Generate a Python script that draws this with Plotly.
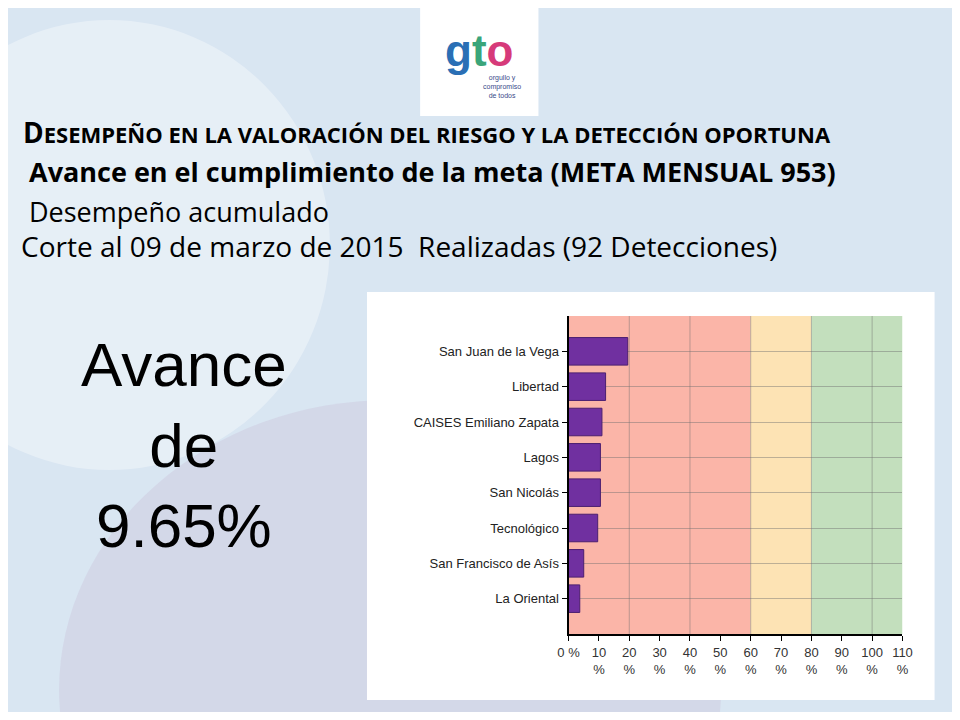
import plotly.graph_objects as go

# data (percent of monthly goal)
centros = ["San Juan de la Vega", "Libertad", "CAISES Emiliano Zapata", "Lagos",
           "San Nicolás", "Tecnológico", "San Francisco de Asís", "La Oriental"]
avance = [19.5, 12.2, 11.0, 10.5, 10.5, 9.6, 5.0, 3.7]
tick_vals = [0, 10, 20, 30, 40, 50, 60, 70, 80, 90, 100, 110]
tick_text = ["0 %"] + [f"{v}<br>%" for v in tick_vals[1:]]
bandas = [(0, 60, "#fbb5a8"), (60, 80, "#fde3b4"), (80, 110, "#c3dfbd")]

y_cat = centros[::-1]
x_val = avance[::-1]

W, H = 944, 704  # page keeps an 8px margin


def px(x):
    # screenshot pixel -> paper fraction (empirical correction)
    x = (x - 20) / 0.975
    return x / W


def py(y):
    return 1 - (y - 8) / H


fig = go.Figure(go.Bar(
    x=x_val, y=y_cat, orientation="h", width=0.78,
    marker=dict(color="#7030a0", line=dict(color="#4b1f70", width=1)),
))

shapes = [
    # background soft shapes
    dict(type="circle", xref="paper", yref="paper", x0=px(-110), x1=px(330), y0=py(470), y1=py(20),
         fillcolor="rgba(255,255,255,0.35)", line_width=0, layer="below"),
    dict(type="circle", xref="paper", yref="paper", x0=px(60), x1=px(720), y0=py(980), y1=py(400),
         fillcolor="rgba(200,190,215,0.35)", line_width=0, layer="below"),
    # logo box
    dict(type="rect", xref="paper", yref="paper", x0=px(420), x1=px(538), y0=py(116), y1=1,
         fillcolor="white", line_width=0, layer="below"),
    # chart white box
    dict(type="rect", xref="paper", yref="paper", x0=px(367), x1=px(933), y0=py(700), y1=py(292),
         fillcolor="white", line_width=0, layer="below"),
]
for a, b, c in bandas:
    shapes.append(dict(type="rect", xref="x", yref="y domain", x0=a, x1=b, y0=0, y1=1,
                       fillcolor=c, line_width=0, layer="below"))
for v in [20, 40, 60, 80, 100]:
    shapes.append(dict(type="line", xref="x", yref="y domain", x0=v, x1=v, y0=0, y1=1,
                       line=dict(color="rgba(110,110,110,0.45)", width=1), layer="below"))

title_html = "<span style='font-size:28px'>D</span>ESEMPEÑO EN LA VALORACIÓN DEL RIESGO Y LA DETECCIÓN OPORTUNA"


def note(x, y, text, size, **kw):
    return dict(xref="paper", yref="paper", x=px(x), y=py(y), text=text, showarrow=False,
                xanchor=kw.pop("xanchor", "left"), yanchor="middle",
                font=dict(size=size, color=kw.pop("color", "black"), family=kw.pop("family", "Open Sans")), **kw)


anns = [
    note(22, 132, "<b>" + title_html + "</b>", 22),
    note(28, 172, "<b>Avance en el cumplimiento de la meta (META MENSUAL 953)</b>", 27),
    note(28, 211, "Desempeño acumulado", 27),
    note(20, 246, "Corte al 09 de marzo de 2015  Realizadas (92 Detecciones)", 28),
    note(185, 445, "Avance<br>de<br>9.65%", 62, family="Liberation Sans", align="center", xanchor="center"),
    note(479, 50, "<b><span style='color:#2a6fb5'>g</span><span style='color:#3aa57a'>t</span>"
                  "<span style='color:#d63a7a'>o</span></b>", 44, family="Liberation Sans", xanchor="center"),
    note(502, 86, "orgullo y<br>compromiso<br>de todos", 7, color="#3a4a8a", family="Liberation Sans",
         align="center", xanchor="center"),
]

fig.update_layout(
    width=W, height=H, margin=dict(l=0, r=0, t=0, b=0),
    paper_bgcolor="#d9e6f2", plot_bgcolor="rgba(0,0,0,0)",
    showlegend=False, shapes=shapes, annotations=anns, bargap=0.2,
    font=dict(family="Liberation Sans Narrow, Liberation Sans", size=13, color="#222"),
    xaxis=dict(domain=[px(568), px(901)], range=[0, 110], tickvals=tick_vals, ticktext=tick_text,
               showgrid=False, ticks="outside", ticklen=5, tickcolor="black",
               showline=True, linecolor="black", linewidth=2, zeroline=False,
               tickfont=dict(size=13, color="#333")),
    yaxis=dict(domain=[py(634), py(316)], range=[-1, 8], showgrid=True, gridcolor="rgba(110,110,110,0.45)",
               ticks="outside", ticklen=5, tickcolor="black", showline=True, linecolor="black", linewidth=2,
               tickfont=dict(size=13, color="#222")),
)

fig.write_html("out.html")
